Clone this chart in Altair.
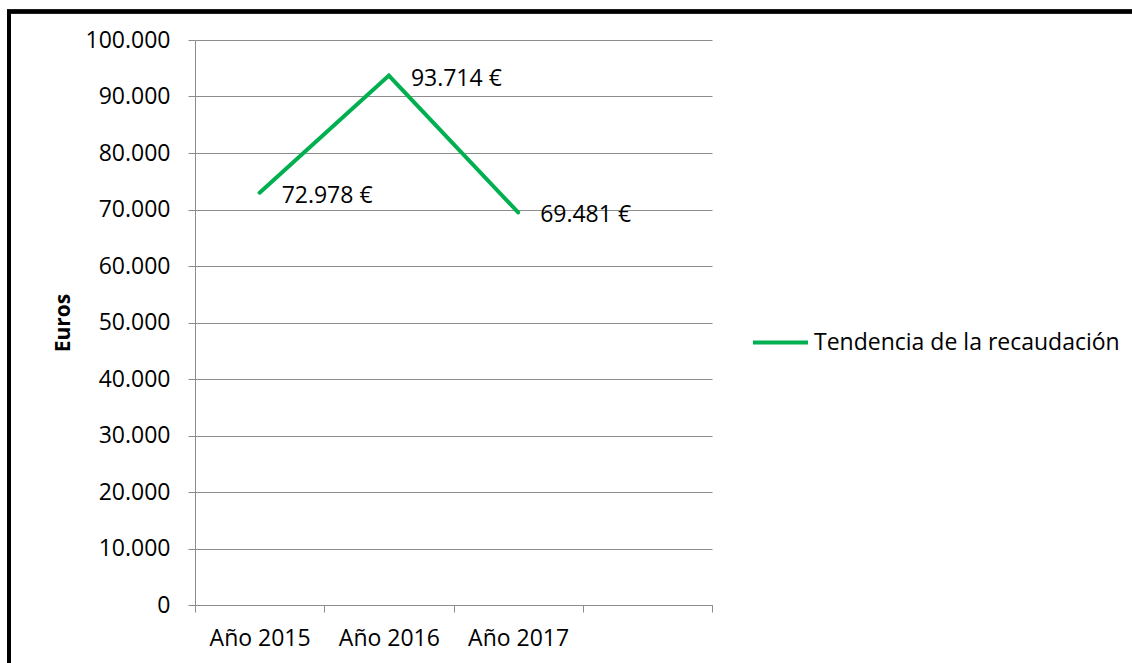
import altair as alt
import pandas as pd

years = ["Año 2015", "Año 2016", "Año 2017"]
values = [72978, 93714, 69481]
series = ["Tendencia de la recaudación"] * 3
x_domain = years + [" "]
y_ticks = [0, 10000, 20000, 30000, 40000, 50000, 60000, 70000, 80000, 90000, 100000]

df = pd.DataFrame({"year": years, "value": values, "serie": series})

FONT = "Open Sans"
FS = 23
GREEN = "#00B050"
GRAY = "#8C8C8C"

fmt = "replace(format(datum.value, ','), ',', '.')"

x_enc = alt.X(
    "year:N",
    scale=alt.Scale(type="band", domain=x_domain, paddingInner=0, paddingOuter=0),
    axis=alt.Axis(
        title=None, labelAngle=0, tickBand="extent", grid=False,
        domainColor=GRAY, tickColor=GRAY, tickSize=7, labelPadding=15,
        labelFontSize=FS, labelFont=FONT, labelColor="black",
    ),
)
y_enc = alt.Y(
    "value:Q",
    scale=alt.Scale(domain=[0, 100000], nice=False),
    axis=alt.Axis(
        title="Euros", titleFont=FONT, titleFontSize=21, titleFontWeight="bold",
        titleColor="black", titlePadding=12,
        values=y_ticks, labelExpr=fmt, labelFont=FONT, labelFontSize=FS,
        labelColor="black", labelPadding=18, tickSize=7, tickColor=GRAY,
        domainColor=GRAY, gridColor=GRAY, gridWidth=1,
    ),
)

base = alt.Chart(df)

line = base.mark_line(strokeWidth=4, strokeCap="round", strokeJoin="miter").encode(
    x=x_enc,
    y=y_enc,
    color=alt.Color(
        "serie:N",
        scale=alt.Scale(range=[GREEN]),
        legend=alt.Legend(
            title=None, orient="none", legendX=556, legendY=273,
            symbolType="stroke", symbolSize=3025, symbolStrokeWidth=4,
            labelFont=FONT, labelFontSize=FS, labelColor="black", labelOffset=4,
            labelLimit=400,
        ),
    ),
)

labels = base.transform_calculate(
    label="replace(format(datum.value, ','), ',', '.') + ' €'"
).mark_text(align="left", baseline="middle", dx=22, dy=3, font=FONT, fontSize=FS, color="black").encode(
    x=alt.X("year:N", scale=alt.Scale(type="band", domain=x_domain, paddingInner=0, paddingOuter=0)),
    y="value:Q",
    text="label:N",
)

border_top = alt.Chart(df).mark_rule(color="black", strokeWidth=4).encode(
    x=alt.value(-188), x2=alt.value(940), y=alt.value(-28.5)
)
border_left = alt.Chart(df).mark_rule(color="black", strokeWidth=4).encode(
    x=alt.value(-186), y=alt.value(-30), y2=alt.value(630)
)

chart = alt.layer(line, labels, border_top, border_left).properties(
    width=517, height=565,
    autosize=alt.AutoSizeParams(type="none"),
    padding={"left": 195, "top": 40, "right": 420, "bottom": 58},
    background="white",
).configure_view(stroke=None)

chart.save("out.html", embed_options={"renderer": "svg", "actions": False})
